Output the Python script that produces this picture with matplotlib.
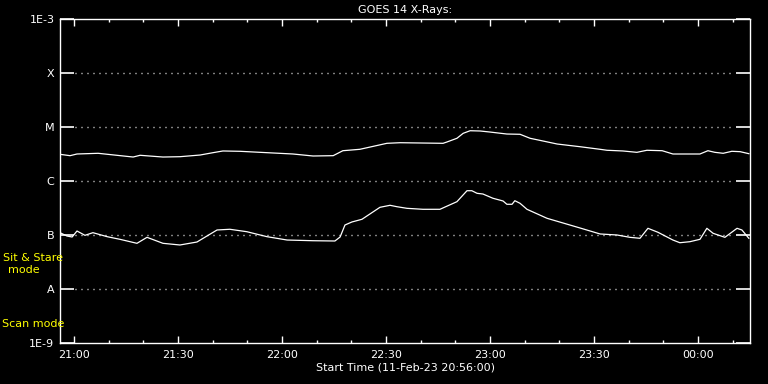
import matplotlib
matplotlib.use('Agg')
import matplotlib.pyplot as plt
import numpy as np

# minutes after start time 20:56:00, log10 of flux (W/m^2)
longMinutes = [0, 2.9, 4.9, 11.0, 16.4, 21.1, 23.1, 29.7, 34.6, 40.4, 44.1, 47.0, 51.9, 61.4,
               67.2, 73.0, 78.8, 81.6, 86.5, 94.3, 98.1, 110.5, 111.6, 114.5, 116.3, 118.3,
               121.2, 124.0, 128.9, 132.7, 135.6, 139.3, 143.4, 150.0, 155.8, 157.8, 162.4,
               166.4, 169.3, 173.7, 176.8, 184.6, 186.9, 188.9, 191.3, 193.8, 196.2, 198.7]
longLogFlux = [-5.506, -5.531, -5.500, -5.487, -5.524, -5.556, -5.524, -5.556, -5.550, -5.519,
               -5.476, -5.444, -5.450, -5.481, -5.500, -5.537, -5.531, -5.439, -5.413, -5.302,
               -5.291, -5.302, -5.278, -5.209, -5.117, -5.069, -5.074, -5.093, -5.130, -5.135,
               -5.209, -5.259, -5.315, -5.365, -5.413, -5.431, -5.444, -5.469, -5.431, -5.439,
               -5.500, -5.500, -5.439, -5.469, -5.487, -5.450, -5.457, -5.494]

shortMinutes = [0, 2.0, 3.5, 4.9, 7.2, 9.5, 13.6, 17.3, 22.2, 25.1, 29.7, 34.6, 39.5, 45.3,
                49.0, 53.9, 59.7, 65.5, 73.0, 79.3, 80.8, 82.2, 84.2, 87.1, 92.3, 95.2, 97.2,
                100.1, 104.7, 109.6, 114.5, 117.4, 118.8, 120.3, 122.0, 124.9, 127.8, 128.9,
                130.4, 131.2, 132.7, 134.7, 140.5, 150.0, 155.8, 160.7, 164.4, 167.3, 169.6,
                172.5, 176.8, 178.8, 181.7, 184.6, 186.6, 188.4, 191.8, 195.3, 196.7, 198.7]
shortLogFlux = [-6.957, -7.019, -7.037, -6.926, -7.006, -6.957, -7.031, -7.080, -7.154, -7.043,
                -7.154, -7.185, -7.130, -6.907, -6.894, -6.939, -7.031, -7.093, -7.106, -7.111,
                -7.037, -6.815, -6.759, -6.709, -6.487, -6.450, -6.476, -6.506, -6.524, -6.524,
                -6.383, -6.180, -6.180, -6.228, -6.241, -6.320, -6.370, -6.431, -6.431, -6.365,
                -6.413, -6.524, -6.691, -6.870, -6.981, -7.000, -7.043, -7.061, -6.876, -6.950,
                -7.093, -7.143, -7.124, -7.080, -6.876, -6.969, -7.043, -6.876, -6.907, -7.061]

classLevels = [1e-3, 1e-4, 1e-5, 1e-6, 1e-7, 1e-8, 1e-9]
classLabels = ['1E-3', 'X', 'M', 'C', 'B', 'A', '1E-9']

timeTicks = [4, 34, 64, 94, 124, 154, 184]
timeLabels = ['21:00', '21:30', '22:00', '22:30', '23:00', '23:30', '00:00']

fig = plt.figure(figsize=(7.68, 3.84), dpi=100, facecolor='black')
area = fig.add_axes([60 / 768, 41 / 384, 690 / 768, 324 / 384])
area.set_facecolor('black')
area.set_yscale('log')
area.set_xlim(0, 690 / 3.4667)
area.set_ylim(1e-9, 1e-3)

# Dotted class levels, one dot every 6 pixels.
for level in classLevels[1:-1]:
    area.axhline(level, xmin=15 / 690, xmax=1 - 15 / 690, color='white',
                 linestyle=(0, (0.72, 3.6)), linewidth=1.0)

area.plot(longMinutes, 10 ** np.array(longLogFlux), color='white', linewidth=0.9)
area.plot(shortMinutes, 10 ** np.array(shortLogFlux), color='white', linewidth=0.9)

for side in area.spines.values():
    side.set_color('white')
    side.set_linewidth(1.0)

area.set_yticks(classLevels)
area.set_yticklabels(classLabels)
area.yaxis.set_minor_locator(matplotlib.ticker.NullLocator())
area.tick_params(axis='y', which='major', direction='in', length=10, width=1.2,
                 left=True, right=True, colors='white', labelsize=8, pad=4)

area.set_xticks(timeTicks)
area.set_xticklabels(timeLabels)
area.set_xticks(np.arange(4, 199, 10), minor=True)
area.tick_params(axis='x', which='major', direction='in', length=5, width=1,
                 top=True, bottom=True, colors='white', labelsize=8, pad=5)
area.tick_params(axis='x', which='minor', direction='in', length=2.5, width=1,
                 top=True, bottom=True, colors='white')

area.set_title('GOES 14 X-Rays:', color='white', fontsize=8, pad=4)
area.set_xlabel('Start Time (11-Feb-23 20:56:00)', color='white', fontsize=8, labelpad=2)

fig.text(33 / 768, 1 - 258 / 384, 'Sit & Stare', color='yellow', fontsize=8,
         ha='center', va='center')
fig.text(24 / 768, 1 - 270 / 384, 'mode', color='yellow', fontsize=8,
         ha='center', va='center')
fig.text(2 / 768, 1 - 324 / 384, 'Scan mode', color='yellow', fontsize=8,
         ha='left', va='center')

fig.savefig('out.png', dpi=100, facecolor='black')
